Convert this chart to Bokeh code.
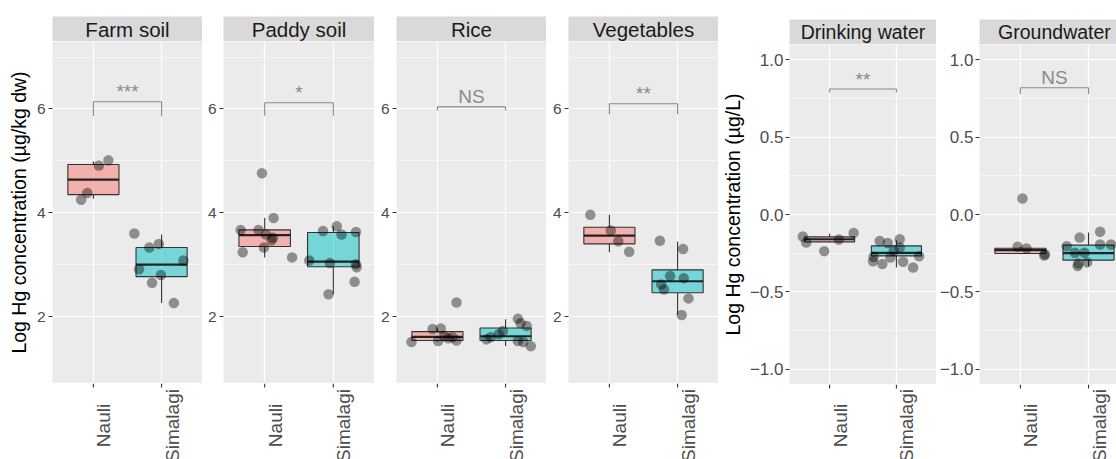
import math
from bokeh.plotting import figure
from bokeh.layouts import row, column
from bokeh.models import Range1d, FixedTicker, ColumnDataSource
from bokeh.embed import file_html
from bokeh.resources import INLINE
from bokeh.core.properties import value

# ---------------- data ----------------
panels = ["Farm soil", "Paddy soil", "Rice", "Vegetables", "Drinking water", "Groundwater"]
sites = ["Nauli", "Simalagi"]

# box statistics per panel (same order as panels)
q1_nauli = [4.35, 3.35, 1.54, 3.40, -0.177, -0.252]
med_nauli = [4.64, 3.57, 1.61, 3.56, -0.160, -0.231]
q3_nauli = [4.93, 3.67, 1.71, 3.72, -0.145, -0.218]
lo_nauli = [4.27, 3.14, 1.51, 3.24, -0.181, -0.257]
hi_nauli = [4.99, 3.90, 1.77, 3.96, -0.125, -0.209]

q1_sim = [2.77, 2.96, 1.54, 2.46, -0.268, -0.295]
med_sim = [3.00, 3.06, 1.62, 2.68, -0.248, -0.250]
q3_sim = [3.33, 3.62, 1.78, 2.90, -0.203, -0.198]
lo_sim = [2.26, 2.43, 1.43, 2.04, -0.343, -0.334]
hi_sim = [3.58, 3.74, 1.95, 3.44, -0.166, -0.116]

farm_nauli = [5.01, 4.91, 4.38, 4.25]
farm_nauli_dx = [0.22, 0.08, -0.09, -0.18]
farm_sim = [3.60, 3.33, 3.40, 3.08, 2.91, 2.80, 2.65, 2.26]
farm_sim_dx = [-0.40, -0.18, -0.04, 0.32, -0.33, -0.01, -0.14, 0.18]

paddy_nauli = [4.76, 3.90, 3.67, 3.67, 3.58, 3.52, 3.47, 3.24, 3.33, 3.14]
paddy_nauli_dx = [-0.04, 0.13, -0.35, -0.09, 0.02, 0.12, 0.10, -0.32, -0.01, 0.40]
paddy_sim = [3.74, 3.65, 3.58, 3.63, 3.08, 3.03, 3.01, 2.95, 2.67, 2.43]
paddy_sim_dx = [0.05, -0.15, 0.12, 0.33, -0.35, -0.05, 0.33, 0.34, 0.31, -0.07]

rice_nauli = [2.27, 1.77, 1.76, 1.51, 1.53, 1.58, 1.54, 1.62, 1.60]
rice_nauli_dx = [0.28, 0.05, -0.07, -0.38, 0.01, 0.16, 0.28, 0.10, 0.22]
rice_sim = [1.96, 1.87, 1.82, 1.72, 1.66, 1.60, 1.56, 1.53, 1.51, 1.43]
rice_sim_dx = [0.18, 0.22, 0.31, -0.04, -0.10, -0.22, -0.28, 0.18, 0.26, 0.37]

veg_nauli = [3.96, 3.66, 3.45, 3.25]
veg_nauli_dx = [-0.28, 0.02, 0.13, 0.29]
veg_sim = [3.46, 3.30, 2.78, 2.74, 2.62, 2.52, 2.35, 2.03]
veg_sim_dx = [-0.26, 0.08, -0.11, 0.09, -0.24, -0.20, 0.16, 0.06]

drink_nauli = [-0.142, -0.181, -0.237, -0.162, -0.119]
drink_nauli_dx = [-0.40, -0.35, -0.08, 0.14, 0.36]
drink_sim = [-0.171, -0.184, -0.160, -0.213, -0.235, -0.278, -0.302, -0.321, -0.306, -0.270, -0.343, -0.275]
drink_sim_dx = [-0.25, -0.13, 0.05, 0.05, -0.04, -0.09, -0.35, -0.21, 0.10, 0.34, 0.25, -0.34]

ground_nauli = [0.103, -0.209, -0.220, -0.257, -0.265]
ground_nauli_dx = [0.03, -0.04, 0.09, 0.36, 0.35]
ground_sim = [-0.112, -0.149, -0.194, -0.194, -0.205, -0.248, -0.248, -0.317, -0.310, -0.334]
ground_sim_dx = [0.17, -0.13, 0.17, 0.33, -0.32, -0.20, -0.06, -0.15, -0.02, -0.16]

# significance brackets
sig_label = ["***", "*", "NS", "**", "**", "NS"]
sig_y = [6.14, 6.12, 6.04, 6.10, 0.812, 0.820]
sig_tip = [5.86, 5.87, 5.97, 5.90, 0.790, 0.780]

# axes
soil_ticks = [2, 4, 6]
soil_minor = [3, 5, 7]
soil_tick_labels = ["2", "4", "6"]
water_ticks = [-1.0, -0.5, 0.0, 0.5, 1.0]
water_minor = [-0.75, -0.25, 0.25, 0.75]
water_tick_labels = ["\u22121.0", "\u22120.5", "0.0", "0.5", "1.0"]
soil_title = "Log Hg concentration (\u00b5g/kg dw)"
water_title = "Log Hg concentration (\u00b5g/L)"

points = [
    (farm_nauli, farm_nauli_dx, farm_sim, farm_sim_dx),
    (paddy_nauli, paddy_nauli_dx, paddy_sim, paddy_sim_dx),
    (rice_nauli, rice_nauli_dx, rice_sim, rice_sim_dx),
    (veg_nauli, veg_nauli_dx, veg_sim, veg_sim_dx),
    (drink_nauli, drink_nauli_dx, drink_sim, drink_sim_dx),
    (ground_nauli, ground_nauli_dx, ground_sim, ground_sim_dx),
]

# ---------------- style / layout ----------------
FONT = "Liberation Sans"
FILLS = ["#F8766D", "#00BFC4"]
BOXLINE = "#333333"
GREY_SIG = "#8A8A8A"

frame_w = [150, 151, 150, 150, 151, 138]   # last panel is cut by the picture edge
border_left = [52, 21, 22, 22, 67, 42]
cat_pos = [1, 2]
FULL_PANEL_W = 151.0


def build_column(i):
    soil = i < 4
    fw = frame_w[i]
    bl = border_left[i]
    W = fw + bl
    x_end = 2.6 if i != 5 else 0.4 + 2.2 * fw / FULL_PANEL_W
    xr = Range1d(0.4, x_end)
    yr = Range1d(0.71, 7.30) if soil else Range1d(-1.10, 1.10)

    strip_top = 16 if soil else 19
    strip_font = "20.5px" if soil else "19.5px"
    panel_h = 342 if soil else 340
    label_h = 459 - strip_top - 25 - panel_h
    label_center = 42 if soil else 41

    # ---- strip ----
    s = figure(width=W, height=strip_top + 25, x_range=xr, y_range=Range1d(0, 1),
               x_axis_type=None, y_axis_type=None, output_backend="svg", toolbar_location=None,
               min_border_left=bl, min_border_right=0, min_border_top=strip_top, min_border_bottom=0,
               background_fill_color="#D9D9D9", border_fill_color="white", outline_line_color=None)
    s.grid.visible = False
    s.text(x=[sum(cat_pos) / 2], y=[0.5], text=[panels[i]], text_align="center", text_baseline="middle",
           text_font=value(FONT), text_font_size=strip_font, text_color="#1A1A1A")

    # ---- panel ----
    p = figure(width=W, height=panel_h, x_range=xr, y_range=yr, output_backend="svg",
               toolbar_location=None, x_axis_location=None,
               min_border_left=bl, min_border_right=0, min_border_top=0,
               min_border_bottom=0, background_fill_color="#EBEBEB", border_fill_color="white",
               outline_line_color=None)
    p.xgrid.ticker = FixedTicker(ticks=cat_pos)

    if soil:
        yt = FixedTicker(ticks=soil_ticks, minor_ticks=soil_minor)
        overrides = {t: l for t, l in zip(soil_ticks, soil_tick_labels)}
    else:
        yt = FixedTicker(ticks=water_ticks, minor_ticks=water_minor)
        overrides = {t: l for t, l in zip(water_ticks, water_tick_labels)}
    p.yaxis.ticker = yt
    p.ygrid.ticker = yt
    p.yaxis.major_label_overrides = overrides
    p.yaxis.major_label_text_font = FONT
    p.yaxis.major_label_text_font_size = "15.5px" if soil else "17px"
    p.yaxis.major_label_text_color = "#4D4D4D"
    p.yaxis.major_label_standoff = 3 if soil else 2
    p.yaxis.major_tick_out = 4
    p.yaxis.major_tick_in = 0
    p.yaxis.major_tick_line_color = BOXLINE
    p.yaxis.minor_tick_line_color = None
    p.yaxis.axis_line_color = None
    if i == 0 or i == 4:
        p.yaxis.axis_label = soil_title if soil else water_title
        p.yaxis.axis_label_text_font = FONT
        p.yaxis.axis_label_text_font_size = "19.5px"
        p.yaxis.axis_label_text_font_style = "normal"
        p.yaxis.axis_label_text_color = "black"
        p.yaxis.axis_label_standoff = 4 if soil else 3

    p.grid.grid_line_color = "white"
    p.grid.grid_line_width = 1.2
    p.ygrid.minor_grid_line_color = "white"
    p.ygrid.minor_grid_line_width = 0.6

    box = ColumnDataSource(dict(
        x=cat_pos,
        x0=[c - 0.375 for c in cat_pos],
        x1=[c + 0.375 for c in cat_pos],
        q1=[q1_nauli[i], q1_sim[i]],
        med=[med_nauli[i], med_sim[i]],
        q3=[q3_nauli[i], q3_sim[i]],
        lo=[lo_nauli[i], lo_sim[i]],
        hi=[hi_nauli[i], hi_sim[i]],
        color=FILLS,
    ))
    p.segment(x0="x", y0="q3", x1="x", y1="hi", source=box, line_color=BOXLINE, line_width=1.1)
    p.segment(x0="x", y0="q1", x1="x", y1="lo", source=box, line_color=BOXLINE, line_width=1.1)
    p.vbar(x="x", width=0.75, bottom="q1", top="q3", source=box, fill_color="color", fill_alpha=0.5,
           line_color=BOXLINE, line_width=1.1)
    p.segment(x0="x0", y0="med", x1="x1", y1="med", source=box, line_color="#222222", line_width=2.2)

    vn, dn, vs, ds = points[i]
    xs = [cat_pos[0] + d for d in dn] + [cat_pos[1] + d for d in ds]
    ys = list(vn) + list(vs)
    p.scatter(x=xs, y=ys, size=10.5, fill_color="black", fill_alpha=0.4, line_color=None)

    # significance bracket
    p.line(x=[cat_pos[0], cat_pos[0], cat_pos[1], cat_pos[1]],
           y=[sig_tip[i], sig_y[i], sig_y[i], sig_tip[i]], line_color=GREY_SIG, line_width=1.1)
    p.text(x=[sum(cat_pos) / 2], y=[sig_y[i]], text=[sig_label[i]], text_align="center",
           text_baseline="alphabetic", y_offset=-10, text_font=value(FONT), text_font_size="19px",
           text_color=GREY_SIG)

    # ---- x axis ticks and rotated tick labels (pixel-unit y range) ----
    lf = figure(width=W, height=label_h, x_range=xr, y_range=Range1d(-label_h, 0),
                x_axis_type=None, y_axis_type=None, output_backend="svg", toolbar_location=None,
                min_border_left=bl, min_border_right=0, min_border_top=0, min_border_bottom=0,
                background_fill_color="white", border_fill_color="white", outline_line_color=None)
    lf.grid.visible = False
    lf.segment(x0=cat_pos, x1=cat_pos, y0=[0, 0], y1=[-4, -4], line_color=BOXLINE, line_width=1.1)
    lf.text(x=cat_pos, y=[-label_center] * 2, text=sites, angle=math.pi / 2, text_align="center",
            text_baseline="top", text_font=value(FONT), text_font_size="19px", text_color="#4D4D4D")

    return column(s, p, lf, spacing=0)


layout = row([build_column(i) for i in range(6)], spacing=0)

open("out.html", "w").write(file_html(layout, INLINE))
